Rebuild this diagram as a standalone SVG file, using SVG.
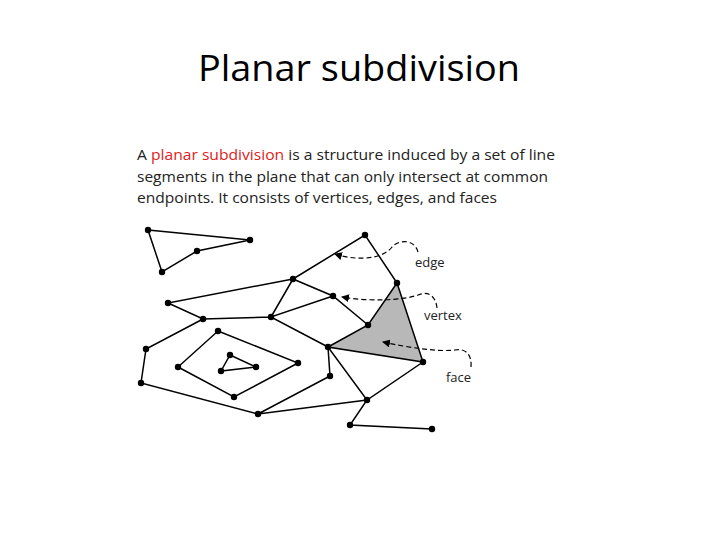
<svg xmlns="http://www.w3.org/2000/svg" width="720" height="540" viewBox="0 0 720 540">
<style>
.e{stroke:#000;stroke-width:1.5;fill:none}
.v{fill:#000}
.d{stroke:#000;stroke-width:1.2;fill:none;stroke-dasharray:5 3}
.t{font-family:"Open Sans","Liberation Sans",sans-serif;font-size:14px;fill:#222}
.l{font-family:"Open Sans","Liberation Sans",sans-serif;font-size:13px;fill:#222}
</style>
<defs><marker id="ah" markerWidth="8" markerHeight="8" refX="7" refY="4" orient="auto" markerUnits="userSpaceOnUse"><path d="M0,0 L8,4 L0,8 z" fill="#000"/></marker></defs>
<rect width="720" height="540" fill="#fff"/>
<text x="359" y="81" text-anchor="middle" font-family="'Open Sans','Liberation Sans',sans-serif" font-size="36" fill="#000" textLength="322" lengthAdjust="spacingAndGlyphs">Planar subdivision</text>
<text class="t" x="137" y="160" textLength="418" lengthAdjust="spacingAndGlyphs">A <tspan fill="#d22">planar subdivision</tspan> is a structure induced by a set of line</text>
<text class="t" x="137" y="182" textLength="411" lengthAdjust="spacingAndGlyphs">segments in the plane that can only intersect at common</text>
<text class="t" x="137" y="203" textLength="360" lengthAdjust="spacingAndGlyphs">endpoints.  It consists of vertices, edges, and faces</text>
<g id="face"><polygon points="328,347 368,325 397,283 423,362" fill="#b8b8b8" stroke="#000" stroke-width="1.5"/></g>
<g id="edges">
<path class="e" d="M148,230 L250,240 L197,251 L162,272 Z"/>
<path class="e" d="M293,279 L365,235 L397,283 M293,279 L333,296 L368,325 M293,279 L271,317 L333,296 M293,279 L168,303 L203,319 L271,317 L328,347 M203,319 L146,349 L141,383 L258,414 L367,400 L423,362 M258,414 L330,376 L328,347 L367,400 L350,425 L432,429"/>
<path class="e" d="M218,331 L298,363 L234,397 L178,367 Z"/>
<path class="e" d="M230,355 L256,367 L221,371 Z"/>
</g>
<g id="vertices">
<circle class="v" cx="148" cy="230" r="3.2"/><circle class="v" cx="250" cy="240" r="3.2"/><circle class="v" cx="197" cy="251" r="3.2"/><circle class="v" cx="162" cy="272" r="3.2"/>
<circle class="v" cx="365" cy="235" r="3.2"/><circle class="v" cx="397" cy="283" r="3.2"/><circle class="v" cx="293" cy="279" r="3.2"/><circle class="v" cx="333" cy="296" r="3.2"/>
<circle class="v" cx="168" cy="303" r="3.2"/><circle class="v" cx="203" cy="319" r="3.2"/><circle class="v" cx="271" cy="317" r="3.2"/><circle class="v" cx="368" cy="325" r="3.2"/>
<circle class="v" cx="328" cy="347" r="3.2"/><circle class="v" cx="423" cy="362" r="3.2"/><circle class="v" cx="146" cy="349" r="3.2"/><circle class="v" cx="218" cy="331" r="3.2"/>
<circle class="v" cx="298" cy="363" r="3.2"/><circle class="v" cx="178" cy="367" r="3.2"/><circle class="v" cx="234" cy="397" r="3.2"/><circle class="v" cx="230" cy="355" r="3.2"/>
<circle class="v" cx="256" cy="367" r="3.2"/><circle class="v" cx="221" cy="371" r="3.2"/><circle class="v" cx="141" cy="383" r="3.2"/><circle class="v" cx="330" cy="376" r="3.2"/>
<circle class="v" cx="258" cy="414" r="3.2"/><circle class="v" cx="367" cy="400" r="3.2"/><circle class="v" cx="350" cy="425" r="3.2"/><circle class="v" cx="432" cy="429" r="3.2"/>
</g>
<g id="connectors">
<path class="d" marker-end="url(#ah)" d="M418,252 C414,238 398,240 392,247 C384,258 360,262 335,254"/>
<path class="d" marker-end="url(#ah)" d="M437,308 C436,298 430,290 418,295 C405,300 370,302 342,297"/>
<path class="d" marker-end="url(#ah)" d="M471,367 C472,355 466,348 455,350 C440,352 410,348 383,342"/>
</g>
<text class="l" x="415" y="267">edge</text>
<text class="l" x="424" y="320">vertex</text>
<text class="l" x="446" y="382">face</text>
</svg>
